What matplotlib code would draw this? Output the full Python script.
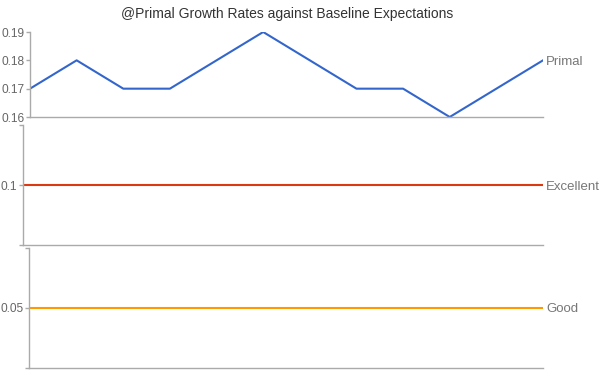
import numpy as np
import matplotlib.pyplot as plt

plt.rcParams['font.family'] = ['Liberation Sans', 'DejaVu Sans']

# data
primal = [0.17, 0.18, 0.17, 0.17, 0.18, 0.19, 0.18, 0.17, 0.17, 0.16, 0.17, 0.18]
excellent = 0.1
good = 0.05
x = np.arange(len(primal))

BLUE = "#3366cc"
RED = "#dc3912"
ORANGE = "#ff9900"
AXIS = "#aaaaaa"
TXT = "#666666"

W, H = 600, 371
fig = plt.figure(figsize=(6, 3.71), dpi=100)


def px_axes(left, top, right, bottom):
    return fig.add_axes([left / W, 1 - bottom / H, (right - left) / W, (bottom - top) / H])


def style(ax):
    for s in ("top", "right"):
        ax.spines[s].set_visible(False)
    for s in ("left", "bottom"):
        ax.spines[s].set_color(AXIS)
        ax.spines[s].set_linewidth(1)
    ax.tick_params(axis="y", colors=AXIS, labelcolor=TXT, labelsize=8.6, length=3, width=1, pad=1)
    ax.set_xticks([])
    ax.set_xlim(x[0], x[-1])


def end_label(ax, y, text):
    ax.text(1.006, y, text, transform=ax.get_yaxis_transform(),
            color="#777777", fontsize=9.5, va="center_baseline", ha="left")


ax1 = px_axes(30, 32, 543, 117)
ax1.plot(x, primal, color=BLUE, lw=1.5)
ax1.set_ylim(0.16, 0.19)
ax1.set_yticks([0.16, 0.17, 0.18, 0.19])
ax1.set_yticklabels(["0.16", "0.17", "0.18", "0.19"])
style(ax1)
end_label(ax1, primal[-1], "Primal")

ax2 = px_axes(23, 125, 543, 245)
ax2.plot(x, [excellent] * len(x), color=RED, lw=1.5)
ax2.set_ylim(0.05, 0.15)
ax2.set_yticks([0.05, 0.1, 0.15])
ax2.set_yticklabels(["", "0.1", ""])
style(ax2)
end_label(ax2, excellent, "Excellent")

ax3 = px_axes(29, 248, 543, 368)
ax3.plot(x, [good] * len(x), color=ORANGE, lw=1.5)
ax3.set_ylim(0.0, 0.1)
ax3.set_yticks([0.0, 0.05, 0.1])
ax3.set_yticklabels(["", "0.05", ""])
style(ax3)
end_label(ax3, good, "Good")

fig.text(287 / W, 1 - 14 / H, "@Primal Growth Rates against Baseline Expectations",
         ha="center", va="center", fontsize=10, color="#333333")

fig.savefig("out.png", dpi=100)
